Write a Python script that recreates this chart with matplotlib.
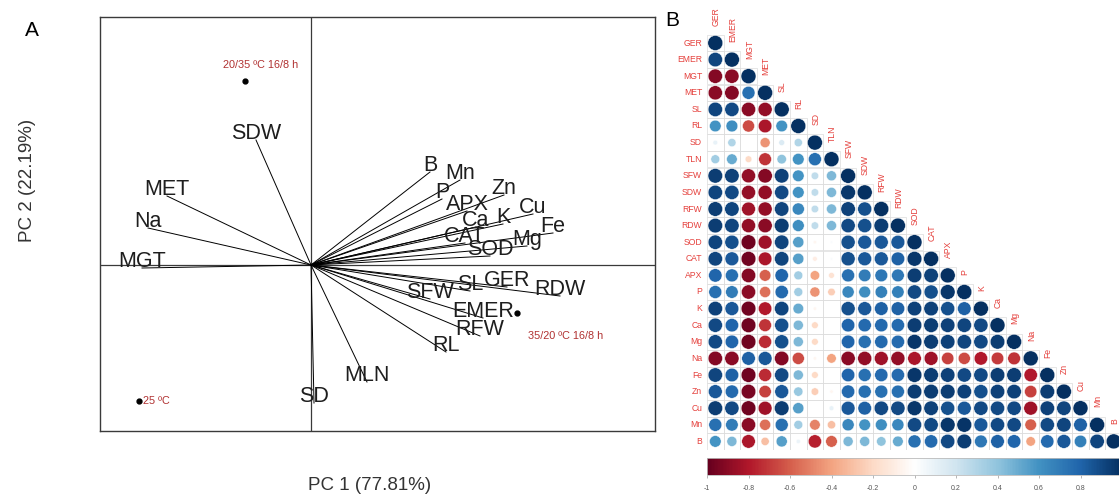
import numpy as np
import matplotlib
matplotlib.use("Agg")
import matplotlib.pyplot as plt
from matplotlib.colors import LinearSegmentedColormap
from matplotlib.patches import Circle, Rectangle

plt.rcParams['font.family'] = ['Liberation Sans', 'DejaVu Sans']

# ---------------- Panel A data (PCA biplot) ----------------
pca_vars = ['B', 'Mn', 'P', 'APX', 'Zn', 'Cu', 'K', 'Ca', 'Fe', 'CAT', 'Mg', 'SOD',
            'GER', 'SL', 'RDW', 'SFW', 'EMER', 'RFW', 'RL', 'MLN', 'SD',
            'SDW', 'MET', 'Na', 'MGT']
pc1_load = [1.19, 1.49, 1.31, 1.56, 1.93, 2.22, 1.92, 1.65, 2.42, 1.54, 2.16, 1.79,
            1.96, 1.59, 2.49, 1.19, 1.72, 1.69, 1.35, 0.56, 0.03,
            -0.55, -1.44, -1.63, -1.69]
pc2_load = [0.93, 0.85, 0.66, 0.54, 0.70, 0.51, 0.41, 0.38, 0.32, 0.22, 0.19, 0.09,
            -0.22, -0.26, -0.31, -0.34, -0.53, -0.71, -0.87, -1.17, -1.38,
            1.25, 0.69, 0.37, -0.03]

treatments = ['20/35 ºC 16/8 h', '35/20 ºC 16/8 h', '25 ºC']
pc1_score = [-0.66, 2.06, -1.72]
pc2_score = [1.84, -0.48, -1.36]

# ---------------- Panel B data (correlation matrix, lower triangle) ----------------
corr_vars = ['GER', 'EMER', 'MGT', 'MET', 'SL', 'RL', 'SD', 'TLN', 'SFW', 'SDW', 'RFW',
             'RDW', 'SOD', 'CAT', 'APX', 'P', 'K', 'Ca', 'Mg', 'Na', 'Fe', 'Zn', 'Cu',
             'Mn', 'B']
corr_rows = [
    [1],
    [0.92, 1],
    [-0.92, -0.90, 1],
    [-0.90, -0.92, 0.75, 1],
    [0.92, 0.90, -0.90, -0.88, 1],
    [0.60, 0.62, -0.65, -0.82, 0.60, 1],
    [0.10, 0.30, 0.00, -0.45, 0.15, 0.30, 1],
    [0.35, 0.50, -0.20, -0.72, 0.40, 0.60, 0.75, 1],
    [0.95, 0.93, -0.88, -0.92, 0.93, 0.60, 0.25, 0.45, 1],
    [0.92, 0.90, -0.88, -0.88, 0.90, 0.60, 0.25, 0.45, 0.97, 1],
    [0.95, 0.92, -0.85, -0.88, 0.92, 0.65, 0.25, 0.45, 0.93, 0.88, 1],
    [0.95, 0.92, -0.88, -0.90, 0.95, 0.62, 0.25, 0.45, 0.90, 0.88, 0.95, 1],
    [0.92, 0.88, -0.97, -0.85, 0.92, 0.55, -0.05, 0.03, 0.88, 0.85, 0.85, 0.85, 1],
    [0.92, 0.85, -0.97, -0.82, 0.92, 0.55, -0.10, 0.03, 0.88, 0.85, 0.85, 0.82, 0.97, 1],
    [0.80, 0.75, -0.92, -0.60, 0.80, 0.35, -0.40, -0.15, 0.75, 0.70, 0.72, 0.72, 0.95, 0.93, 1],
    [0.75, 0.70, -0.90, -0.55, 0.78, 0.35, -0.45, -0.25, 0.65, 0.62, 0.68, 0.68, 0.90, 0.88, 0.97, 1],
    [0.93, 0.85, -0.97, -0.80, 0.92, 0.50, -0.05, 0.00, 0.88, 0.85, 0.82, 0.82, 0.93, 0.93, 0.88, 0.82, 1],
    [0.90, 0.80, -0.97, -0.72, 0.88, 0.45, -0.20, 0.00, 0.80, 0.78, 0.78, 0.78, 0.95, 0.95, 0.93, 0.92, 0.90, 1],
    [0.90, 0.80, -0.97, -0.75, 0.88, 0.45, -0.20, 0.00, 0.80, 0.75, 0.78, 0.78, 0.97, 0.95, 0.93, 0.92, 0.90, 0.95, 1],
    [-0.92, -0.90, 0.82, 0.85, -0.92, -0.65, -0.05, -0.40, -0.90, -0.88, -0.85, -0.88, -0.82, -0.85, -0.68, -0.65, -0.80, -0.70, -0.72, 1],
    [0.92, 0.82, -0.97, -0.75, 0.90, 0.45, -0.20, 0.00, 0.80, 0.75, 0.78, 0.78, 0.97, 0.95, 0.93, 0.90, 0.90, 0.95, 0.95, -0.80, 1],
    [0.85, 0.78, -0.95, -0.68, 0.85, 0.38, -0.25, -0.05, 0.78, 0.75, 0.75, 0.75, 0.95, 0.95, 0.95, 0.93, 0.88, 0.93, 0.93, -0.68, 0.95, 1],
    [0.95, 0.90, -0.97, -0.85, 0.95, 0.55, 0.00, 0.10, 0.85, 0.82, 0.90, 0.90, 0.97, 0.93, 0.88, 0.85, 0.90, 0.90, 0.90, -0.85, 0.93, 0.92, 1],
    [0.75, 0.70, -0.90, -0.55, 0.75, 0.35, -0.50, -0.30, 0.65, 0.60, 0.62, 0.65, 0.90, 0.90, 0.97, 0.98, 0.85, 0.90, 0.90, -0.60, 0.90, 0.92, 0.82, 1],
    [0.60, 0.45, -0.82, -0.30, 0.55, 0.08, -0.78, -0.60, 0.45, 0.45, 0.40, 0.50, 0.75, 0.78, 0.90, 0.95, 0.72, 0.82, 0.80, -0.40, 0.78, 0.85, 0.68, 0.92, 1],
]
cbar_ticks = [-1, -0.8, -0.6, -0.4, -0.2, 0, 0.2, 0.4, 0.6, 0.8]

# ---------------- Figure ----------------
W, H = 1119, 495
fig = plt.figure(figsize=(W / 100, H / 100), dpi=100)

# Panel A
axA = fig.add_axes([100 / W, 1 - 431 / H, 555 / W, 414 / H])
axA.set_xlim(-2.11, 3.44)
axA.set_ylim(-1.66, 2.48)
axA.set_xticks([])
axA.set_yticks([])
for s in axA.spines.values():
    s.set_color('#3a3a3a')
    s.set_linewidth(1.0)
axA.axhline(0, color='#3a3a3a', lw=0.9, zorder=1)
axA.axvline(0, color='#3a3a3a', lw=0.9, zorder=1)

for name, x, y in zip(pca_vars, pc1_load, pc2_load):
    axA.plot([0, x], [0, y], color='black', lw=0.7, zorder=2)
    axA.annotate(name, (x, y), xytext=(0, 4.5), textcoords='offset points',
                 ha='center', va='center', fontsize=15.5, color='#1e1e1e', zorder=3)

axA.plot(pc1_score, pc2_score, 'o', color='black', ms=3.5, zorder=4)
score_offsets = [(11, 11.5), (35, -16.5), (3, 0)]
score_ha = ['center', 'center', 'left']
for lab, x, y, off, ha in zip(treatments, pc1_score, pc2_score, score_offsets, score_ha):
    axA.annotate(lab, (x, y), xytext=off, textcoords='offset points',
                 ha=ha, va='center', fontsize=7.8, color='#b03030', zorder=4)

fig.text(370 / W, 1 - 485 / H, 'PC 1 (77.81%)', ha='center', va='center',
         fontsize=13.5, color='#333333')
fig.text(27 / W, 1 - 180 / H, 'PC 2 (22.19%)', ha='center', va='center',
         rotation=90, fontsize=13.5, color='#333333')
fig.text(32 / W, 1 - 30 / H, 'A', ha='center', va='center', fontsize=15, color='black')
fig.text(672 / W, 1 - 20 / H, 'B', ha='center', va='center', fontsize=15, color='black')

# Panel B
cmap = LinearSegmentedColormap.from_list('RdBu_corr', [
    "#67001F", "#B2182B", "#D6604D", "#F4A582", "#FDDBC7", "#FFFFFF",
    "#D1E5F0", "#92C5DE", "#4393C3", "#2166AC", "#053061"])

n = len(corr_vars)
axB = fig.add_axes([707 / W, 1 - 449.7 / H, 415 / W, 415 / H])
axB.set_xlim(-0.5, n - 0.5)
axB.set_ylim(n - 0.5, -0.5)
axB.axis('off')

lab_col = '#e5403c'
for i, row in enumerate(corr_rows):
    for j, r in enumerate(row):
        axB.add_patch(Rectangle((j - 0.5, i - 0.5), 1, 1, fill=False,
                                edgecolor='#dcdcdc', lw=0.5, zorder=1))
        axB.add_patch(Circle((j, i), radius=0.45 * np.sqrt(abs(r)),
                             facecolor=cmap((r + 1) / 2), edgecolor='white',
                             lw=0.3, zorder=2))
for i, name in enumerate(corr_vars):
    axB.text(-0.8, i, name, ha='right', va='center', fontsize=6.2,
             color=lab_col, clip_on=False)
    axB.text(i + 0.05, i - 1.05, name, ha='center', va='bottom', rotation=90,
             fontsize=6.2, color=lab_col, clip_on=False)

# Colour bar
axC = fig.add_axes([707 / W, 1 - 475 / H, 415 / W, 17 / H])
grad = np.linspace(-1, 1, 400).reshape(1, -1)
axC.imshow(grad, cmap=cmap, vmin=-1, vmax=1, aspect='auto', extent=(-1, 1, 0, 1))
axC.set_xlim(-1, 1)
axC.set_yticks([])
axC.set_xticks(cbar_ticks)
axC.set_xticklabels([f'{t:g}' for t in cbar_ticks])
axC.tick_params(axis='x', length=2.5, width=0.5, color='#999999',
                labelsize=5, labelcolor='#555555', pad=5)
for s in axC.spines.values():
    s.set_color('#bbbbbb')
    s.set_linewidth(0.6)

fig.savefig('out.png', dpi=100)
